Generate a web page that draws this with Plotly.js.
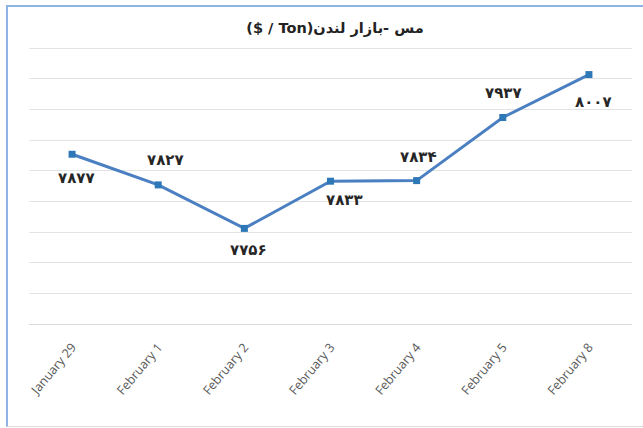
<!DOCTYPE html>
<html>
<head>
<meta charset="utf-8">
<script src="https://cdn.plot.ly/plotly-3.0.1.min.js"></script>
<style>
html,body{margin:0;padding:0;background:#fff;}
#wrap{position:relative;width:643px;height:428px;overflow:hidden;}
#chart{position:absolute;left:0;top:0;width:643px;height:428px;}
#frame{position:absolute;left:6px;top:5px;width:640px;height:419px;border-left:2px solid #8db4e3;border-top:2px solid #8db4e3;border-bottom:1px solid #dcdcdc;pointer-events:none;}
</style>
</head>
<body>
<div id="wrap"><div id="chart"></div><div id="frame"></div></div>
<script>
const categories = ["January 29","February 1","February 2","February 3","February 4","February 5","February 8"];
const prices = [7877, 7827, 7756, 7833, 7834, 7937, 8007];
const titleText = "($ / Ton)مس -بازار لندن";

// label placement (pixels relative to point)
const labelDX = [4, 7, 4, 14, 2, 1, 5];
const labelDY = [-24, 25, -22, -19, 24, 24, -27];

function toPersian(n){
  const d = "۰۱۲۳۴۵۶۷۸۹";
  return String(n).replace(/[0-9]/g, c => d[+c]);
}

const trace = {
  type: "scatter",
  mode: "lines+markers",
  x: categories,
  y: prices,
  line: {color: "#4a7fc1", width: 3},
  marker: {symbol: "square", size: 7, color: "#2f78b8", line: {width: 0}},
  hoverinfo: "skip"
};

const annotations = categories.map((c, i) => ({
  x: c, y: prices[i], xref: "x", yref: "y",
  text: toPersian(prices[i]),
  showarrow: false, xanchor: "center", yanchor: "middle",
  xshift: labelDX[i], yshift: labelDY[i],
  font: {family: "DejaVu Sans", size: 15, color: "#262626", weight: "bold"}
}));

const layout = {
  width: 643, height: 428,
  margin: {l: 29, r: 11, t: 47, b: 104},
  paper_bgcolor: "#ffffff", plot_bgcolor: "#ffffff",
  showlegend: false,
  title: {
    text: "<b>" + titleText + "</b>",
    font: {family: "DejaVu Sans", size: 14.5, color: "#222222"},
    x: 0.521, xanchor: "center", xref: "container",
    y: 1 - 28/428, yanchor: "middle", yref: "container"
  },
  xaxis: {
    type: "category",
    range: [-0.5, 6.5],
    autorange: false,
    automargin: false,
    tickangle: -50,
    tickfont: {family: "Open Sans", size: 12.5, color: "#595959"},
    showgrid: false,
    showline: true, linecolor: "#d9d9d9", linewidth: 1,
    ticks: "", ticklabelstandoff: 10,
    fixedrange: true
  },
  yaxis: {
    range: [7600, 8052],
    autorange: false,
    automargin: false,
    dtick: 50, tick0: 7600,
    showticklabels: false,
    showgrid: true, gridcolor: "#e3e3e3", gridwidth: 1,
    zeroline: false, showline: false, ticks: "",
    fixedrange: true
  },
  annotations: annotations
};

Plotly.newPlot("chart", [trace], layout, {displayModeBar: false, staticPlot: true});
</script>
</body>
</html>
